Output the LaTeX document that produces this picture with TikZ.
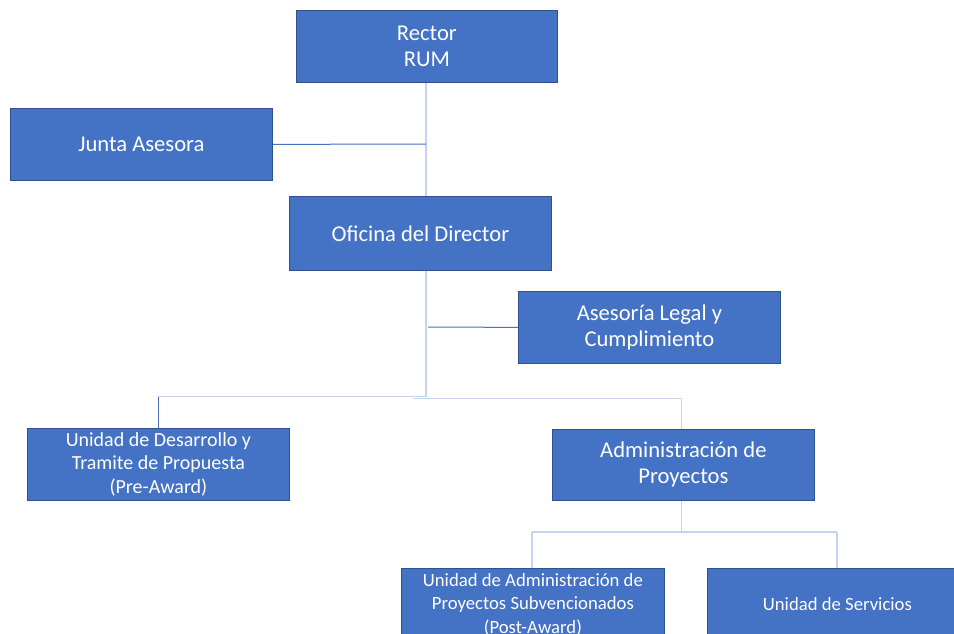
\documentclass[tikz,border=0pt]{standalone}
\usepackage{fontspec}
\setmainfont{Carlito}
\definecolor{boxfill}{HTML}{4472C4}
\definecolor{boxline}{HTML}{2F528F}
\definecolor{pale}{HTML}{C5D3EE}
\definecolor{dark}{HTML}{4A70C0}
\begin{document}
\begin{tikzpicture}[x=1pt,y=-1pt,
  box/.style={draw=boxline,line width=0.8pt,fill=boxfill,text=white,align=center,inner sep=0pt,anchor=north west},
  openbox/.style={box,draw=none},
  edge/.style={draw=boxline,line width=0.8pt},
  big/.style={font=\fontsize{22.6}{26}\selectfont},
  small/.style={font=\fontsize{18.7}{23.5}\selectfont},
  mid/.style={font=\fontsize{20}{23.5}\selectfont},
  paleline/.style={draw=pale,line width=1.8pt},
  darkline/.style={draw=dark,line width=1pt}]
\useasboundingbox (0,0) rectangle (954,634);
\clip (0,0) rectangle (954,634);
% connector points
\coordinate (v1) at (426,396.5);
\coordinate (h1) at (158,396.5);
\coordinate (h2a) at (413,398.5);
\coordinate (h2b) at (681.5,398.5);
\coordinate (j) at (426,144);
\coordinate (l) at (428,327);
\coordinate (a1) at (681.5,532);
\coordinate (a2) at (532,532);
\coordinate (a3) at (837,532);
% boxes
\node[box,big,minimum width=261,minimum height=72] (rector) at (296,10) {Rector\\RUM};
\node[box,big,minimum width=262,minimum height=72] (junta) at (10,108) {Junta Asesora};
\node[box,big,minimum width=262,minimum height=74] (ofi) at (289,196) {Oficina del Director};
\node[box,big,minimum width=262,minimum height=72] (legal) at (518,291) {Asesoría Legal y\\Cumplimiento};
\node[box,mid,minimum width=262,minimum height=72] (pre) at (27,428) {Unidad de Desarrollo y\\Tramite de Propuesta\\(Pre-Award)};
\node[box,big,minimum width=262,minimum height=71] (adm) at (552,429) {Administración de\\Proyectos};
\node[openbox,small,minimum width=263,minimum height=72] (post) at (401,568) {Unidad de Administración de\\Proyectos Subvencionados\\(Post-Award)};
\node[openbox,small,minimum width=260,minimum height=72] (serv) at (707,568) {Unidad de Servicios};
\fill[boxfill] (serv.north east) rectangle ([xshift=30pt,yshift=-30pt]serv.south east);
\draw[edge] ([yshift=-30pt]post.south west) -- (post.north west) -- (post.north east) -- ([yshift=-30pt]post.south east);
\draw[edge] ([yshift=-30pt]serv.south west) -- (serv.north west) -- ([xshift=30pt]serv.north east);
% lines
\draw[paleline] (rector.south -| v1) -- (ofi.north -| v1);
\draw[darkline] (junta.east) -- (j);
\draw[paleline] (ofi.south -| v1) -- (v1) -- (h1);
\draw[paleline] (h2a) -- (h2b);
\draw[darkline] (legal.west) -- (l);
\draw[darkline] (h1) -- (h1 |- pre.north);
\draw[paleline,line width=1.2pt] (h2b) -- (h2b |- adm.north);
\draw[paleline] (adm.south -| a1) -- (a1);
\draw[paleline] (a2) -- (a3);
\draw[paleline,line width=1.2pt] (a2) -- (post.north -| a2);
\draw[paleline,line width=1.2pt] (a3) -- (serv.north -| a3);
\end{tikzpicture}
\end{document}
